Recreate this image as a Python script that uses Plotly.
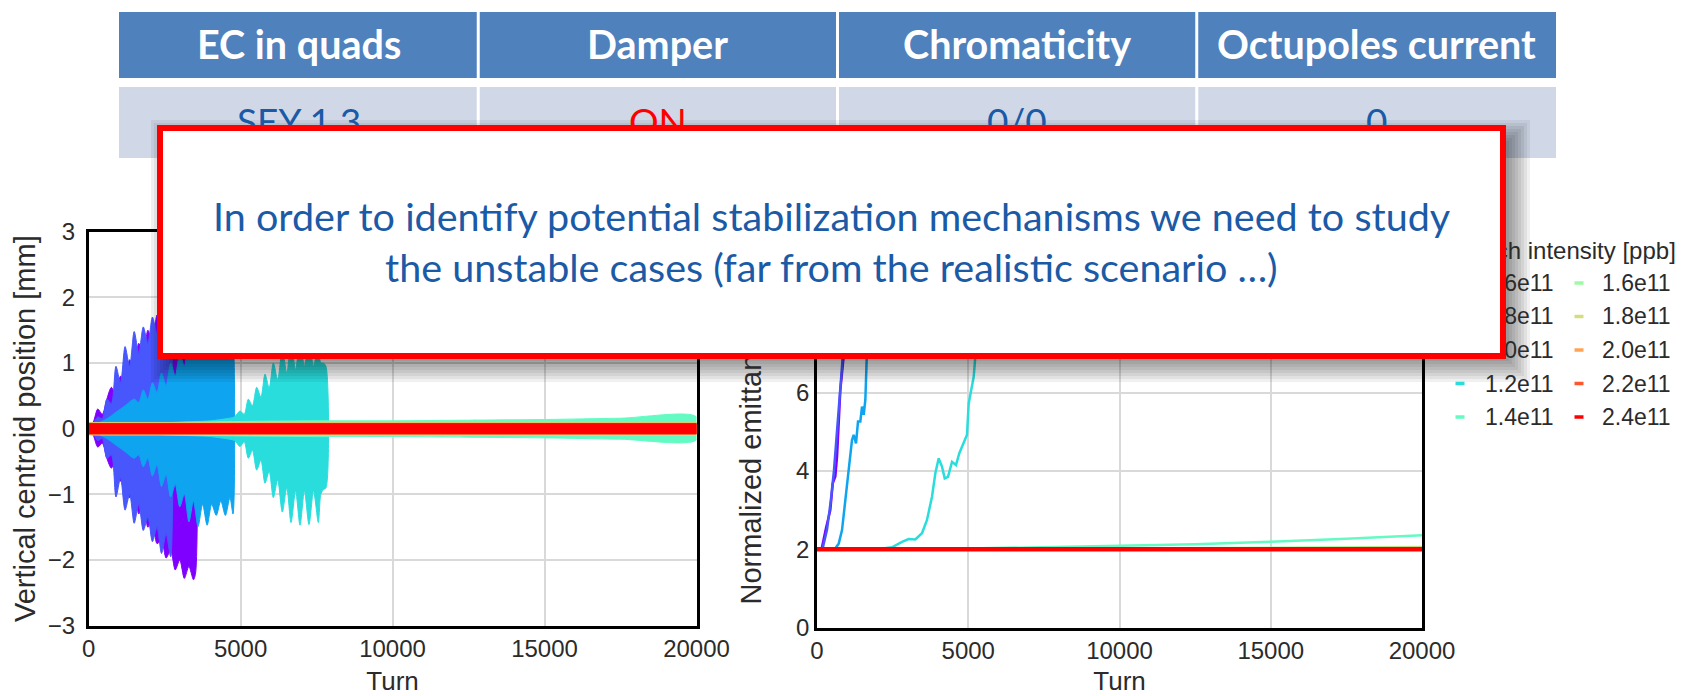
import plotly.graph_objects as go

W, H = 1692, 696

def px(x):
    return x / W

def py(y):
    return 1 - y / H

# ---------------- data ----------------
INTENSITY_LABELS = ["0.6e11", "0.8e11", "1.0e11", "1.2e11", "1.4e11",
                    "1.6e11", "1.8e11", "2.0e11", "2.2e11", "2.4e11"]
COLORS = ["#8000ff", "#4757fb", "#0ea4f0", "#2adddd", "#63fbc3",
          "#9cfba4", "#d4dd80", "#ffa457", "#ff572c", "#ff0000"]
LEGEND_TITLE = "Bunch intensity [ppb]"

TABLE_HEADER = ["EC in quads", "Damper", "Chromaticity", "Octupoles current"]
TABLE_ROW = ["SEY 1.3", "ON", "0/0", "0"]
TABLE_ROW_COLORS = ["#1b5aa6", "#ff0000", "#1b5aa6", "#1b5aa6"]

BOX_TEXT_1 = "In order to identify potential stabilization mechanisms we need to study"
BOX_TEXT_2 = "the unstable cases (far from the realistic scenario \u2026)"

TURN_TICKS = [0, 5000, 10000, 15000, 20000]
TURN_TICK_LABELS = ["0", "5000", "10000", "15000", "20000"]
POS_TICKS = [-3, -2, -1, 0, 1, 2, 3]
POS_TICK_LABELS = ["\u22123", "\u22122", "\u22121", "0", "1", "2", "3"]
EMIT_TICKS = [0, 2, 4, 6, 8, 10]
EMIT_TICK_LABELS = ["0", "2", "4", "6", "8", "10"]

# Left panel: envelope (upper / lower) of the vertical centroid oscillation [mm]
T_06 = [0, 150, 300, 450, 600, 750, 900, 1050, 1200, 1350, 1500, 1650, 1800, 1950, 2100,
        2250, 2400, 2550, 2700, 2850, 3000, 3150, 3300, 3450, 3520]
U_06 = [0.04, 0.10, 0.30, 0.22, 0.45, 0.63, 0.50, 0.80, 0.70, 1.05, 0.90, 1.30, 1.10, 1.50, 1.30,
        1.73, 1.50, 1.90, 1.65, 2.05, 1.85, 2.20, 2.00, 2.30, 2.10]
L_06 = [-0.04, -0.10, -0.28, -0.22, -0.45, -0.60, -0.48, -0.80, -0.70, -1.05, -0.90, -1.30, -1.10,
        -1.50, -1.35, -1.75, -1.70, -1.97, -1.85, -2.15, -2.00, -2.28, -2.10, -2.30, -2.20]

T_08 = [0, 150, 300, 450, 600, 750, 900, 1050, 1200, 1350, 1500, 1650, 1800, 1950, 2100,
        2250, 2400, 2550, 2700]
U_08 = [0.03, 0.08, 0.18, 0.15, 0.45, 0.38, 0.95, 0.70, 1.25, 0.95, 1.48, 1.15, 1.55, 1.30, 1.70,
        1.45, 1.85, 1.55, 1.90]
L_08 = [-0.03, -0.08, -0.18, -0.15, -0.45, -0.40, -1.04, -0.75, -1.24, -1.00, -1.44, -1.15, -1.55,
        -1.35, -1.72, -1.50, -1.90, -1.60, -1.95]

T_10 = [0, 300, 600, 900, 1200, 1500, 1650, 1800, 1950, 2100, 2250, 2400, 2550, 2700, 2850, 3000,
        3150, 3300, 3450, 3600, 3750, 3900, 4050, 4200, 4350, 4500, 4650, 4750, 4790]
U_10 = [0.02, 0.08, 0.15, 0.25, 0.35, 0.45, 0.40, 0.59, 0.45, 0.70, 0.55, 0.85, 0.65, 1.00, 0.80,
        1.15, 0.95, 1.35, 1.10, 1.49, 1.15, 1.47, 1.15, 1.35, 1.10, 1.32, 1.05, 1.30, 1.00]
L_10 = [-0.02, -0.08, -0.15, -0.25, -0.35, -0.45, -0.40, -0.58, -0.45, -0.72, -0.55, -0.88, -0.70,
        -1.04, -0.85, -1.19, -1.00, -1.42, -1.10, -1.49, -1.15, -1.47, -1.15, -1.32, -1.10, -1.32,
        -1.05, -1.30, -1.00]

T_12 = [0, 1000, 2000, 3000, 4000, 4500, 4800, 4980, 5120, 5255, 5390, 5530, 5670, 5804, 5940,
        6078, 6220, 6373, 6520, 6660, 6810, 6955, 7100, 7251, 7400, 7558, 7640, 7722, 7810]
U_12 = [0.02, 0.05, 0.08, 0.10, 0.12, 0.15, 0.18, 0.27, 0.22, 0.45, 0.35, 0.63, 0.48, 0.83, 0.62,
        1.00, 0.75, 1.20, 0.85, 1.30, 0.90, 1.35, 0.95, 1.35, 0.95, 1.30, 1.00, 1.00, 0.95]
L_12 = [-0.02, -0.05, -0.08, -0.10, -0.12, -0.15, -0.18, -0.27, -0.20, -0.45, -0.33, -0.63, -0.48,
        -0.83, -0.65, -1.05, -0.78, -1.27, -0.90, -1.43, -0.95, -1.47, -0.95, -1.46, -0.95, -1.43,
        -1.00, -0.93, -0.90]

T_14 = [0, 2500, 5000, 7500, 10000, 12500, 15000, 17500, 20000]
U_14 = [0.05, 0.09, 0.11, 0.12, 0.12, 0.13, 0.14, 0.16, 0.18]
L_14 = [-0.05, -0.09, -0.11, -0.12, -0.12, -0.13, -0.14, -0.16, -0.17]

T_ST = [0, 20000]
U_16 = [0.095, 0.095]
L_16 = [-0.095, -0.095]
U_18 = [0.09, 0.09]
L_18 = [-0.09, -0.09]
U_20 = [0.085, 0.085]
L_20 = [-0.085, -0.085]
U_22 = [0.08, 0.08]
L_22 = [-0.08, -0.08]
U_24 = [0.076, 0.076]
L_24 = [-0.076, -0.076]

POS_T = [T_06, T_08, T_10, T_12, T_14, T_ST, T_ST, T_ST, T_ST, T_ST]
POS_U = [U_06, U_08, U_10, U_12, U_14, U_16, U_18, U_20, U_22, U_24]
POS_L = [L_06, L_08, L_10, L_12, L_14, L_16, L_18, L_20, L_22, L_24]

# Right panel: normalized emittance [um]
ET_06 = [0, 150, 300, 440, 520, 606, 662, 771, 880, 1000]
E_06 = [2.0, 2.0, 2.55, 3.0, 3.68, 3.86, 4.36, 6.06, 6.91, 8.5]
ET_08 = [0, 180, 330, 450, 560, 650, 740, 820, 900, 1000]
E_08 = [2.0, 2.0, 2.5, 3.2, 4.0, 4.8, 5.8, 6.6, 7.4, 8.6]
ET_10 = [0, 400, 606, 720, 827, 937, 1048, 1157, 1213, 1290, 1356, 1433, 1488, 1544, 1598, 1631,
         1700, 1800]
E_10 = [2.0, 2.0, 2.02, 2.15, 2.49, 3.26, 3.94, 4.79, 4.92, 4.70, 5.26, 5.26, 5.64, 5.43, 5.81,
        6.83, 8.2, 9.8]
ET_12 = [0, 1500, 2046, 2480, 2810, 3031, 3250, 3471, 3636, 3802, 3912, 4023, 4132, 4222, 4331,
         4463, 4595, 4705, 4850, 4959, 5015, 5101, 5180, 5233, 5350, 5500]
E_12 = [2.0, 2.0, 2.01, 2.05, 2.19, 2.26, 2.25, 2.41, 2.75, 3.34, 3.94, 4.32, 4.11, 3.81, 3.85,
        4.23, 4.15, 4.45, 4.70, 4.92, 5.72, 6.06, 6.40, 6.91, 8.0, 9.6]
ET_LONG = [0, 2500, 5000, 7500, 10000, 12500, 15000, 17500, 20000]
E_14 = [2.0, 2.0, 2.02, 2.05, 2.09, 2.13, 2.19, 2.27, 2.36]
E_16 = [2.0, 2.0, 2.0, 2.01, 2.02, 2.03, 2.04, 2.05, 2.06]
E_18 = [2.0, 2.0, 2.0, 2.01, 2.015, 2.02, 2.03, 2.035, 2.04]
E_20 = [2.0, 2.0, 2.0, 2.005, 2.01, 2.015, 2.02, 2.025, 2.03]
E_22 = [2.0, 2.0, 2.0, 2.0, 2.005, 2.01, 2.012, 2.015, 2.02]
E_24 = [2.0, 2.0, 2.0, 2.0, 2.0, 2.0, 2.0, 2.0, 2.0]

EMIT_T = [ET_06, ET_08, ET_10, ET_12, ET_LONG, ET_LONG, ET_LONG, ET_LONG, ET_LONG, ET_LONG]
EMIT_V = [E_06, E_08, E_10, E_12, E_14, E_16, E_18, E_20, E_22, E_24]

# ---------------- figure ----------------
CHART_FONT = "Liberation Sans, Arial, sans-serif"
SLIDE_FONT = "Lato, Noto Sans, sans-serif"
TXT = "#2b2b2b"
BLUE_TXT = "#1b5aa6"

fig = go.Figure()

for i, lab in enumerate(INTENSITY_LABELS):
    t, u, l = POS_T[i], POS_U[i], POS_L[i]
    unstable = len(t) > 2
    fig.add_trace(go.Scatter(
        x=list(t) + list(t)[::-1], y=list(u) + list(l)[::-1],
        mode="lines", fill="toself", fillcolor=COLORS[i],
        line=dict(color=COLORS[i], width=1,
                  shape="spline" if unstable else "linear", smoothing=0.8),
        xaxis="x", yaxis="y", showlegend=False, hoverinfo="skip", name=lab))

for i, lab in enumerate(INTENSITY_LABELS):
    fig.add_trace(go.Scatter(
        x=EMIT_T[i], y=EMIT_V[i], mode="lines",
        line=dict(color=COLORS[i], width=4.5 if i == 9 else 2.5),
        xaxis="x2", yaxis="y2", showlegend=False, name=lab))

axis_common = dict(
    automargin=False,
    showgrid=True, gridcolor="#d9d9d9", gridwidth=1.5,
    showline=True, linecolor="black", linewidth=2.5, mirror=True,
    zeroline=False, ticks="", tickmode="array",
    tickfont=dict(family=CHART_FONT, size=24, color=TXT),
)

fig.update_layout(
    width=W, height=H, autosize=False,
    margin=dict(l=0, r=0, t=0, b=0, pad=0),
    paper_bgcolor="white", plot_bgcolor="white",
    font=dict(family=CHART_FONT, color=TXT),
    showlegend=False,
    xaxis=dict(axis_common, domain=[px(88.6), px(696.5)], range=[0, 20000], anchor="y",
               tickvals=TURN_TICKS, ticktext=TURN_TICK_LABELS, ticklabelstandoff=0,
               title=dict(text="Turn", font=dict(size=26, color=TXT), standoff=12)),
    yaxis=dict(axis_common, domain=[py(625.7), py(231.7)], range=[-3, 3], anchor="x",
               tickvals=POS_TICKS, ticktext=POS_TICK_LABELS, ticklabelstandoff=6,
               title=dict(text="Vertical centroid position [mm]",
                          font=dict(size=29, color=TXT), standoff=4)),
    xaxis2=dict(axis_common, domain=[px(817), px(1422)], range=[0, 20000], anchor="y2",
                tickvals=TURN_TICKS, ticktext=TURN_TICK_LABELS, ticklabelstandoff=0,
                title=dict(text="Turn", font=dict(size=26, color=TXT), standoff=12)),
    yaxis2=dict(axis_common, domain=[py(627.7), py(235.7)], range=[0, 10], anchor="x2",
                tickvals=EMIT_TICKS, ticktext=EMIT_TICK_LABELS, ticklabelstandoff=0,
                title=dict(text="Normalized emittance [\u03bcm]",
                           font=dict(size=29, color=TXT), standoff=13)),
)

shapes = []
annotations = []

# ---------------- table (cells + text) ----------------
COL_EDGES = [119, 478.25, 837.5, 1196.75, 1556]
for c in range(4):
    x0 = COL_EDGES[c] + (1.5 if c > 0 else 0)
    x1 = COL_EDGES[c + 1] - (1.5 if c < 3 else 0)
    shapes.append(dict(type="rect", xref="paper", yref="paper", layer="above",
                       x0=px(x0), x1=px(x1), y0=py(78), y1=py(12),
                       fillcolor="#4f81bd", line=dict(width=0)))
    shapes.append(dict(type="rect", xref="paper", yref="paper", layer="above",
                       x0=px(x0), x1=px(x1), y0=py(158), y1=py(87),
                       fillcolor="#d0d8e8", line=dict(width=0)))
    xc = px((COL_EDGES[c] + COL_EDGES[c + 1]) / 2)
    annotations.append(dict(xref="paper", yref="paper", x=xc, y=py(44),
                            text="<b>%s</b>" % TABLE_HEADER[c], showarrow=False,
                            xanchor="center", yanchor="middle",
                            font=dict(family=SLIDE_FONT, size=39.5, color="white")))
    annotations.append(dict(xref="paper", yref="paper", x=xc, y=py(121),
                            text=TABLE_ROW[c], showarrow=False,
                            xanchor="center", yanchor="middle",
                            font=dict(family=SLIDE_FONT, size=37, color=TABLE_ROW_COLORS[c])))

# ---------------- legend (two columns) ----------------
LEG_ROW_Y = [283, 316.5, 350, 383.5, 417]
LEG_COL_MARK_X = [1460, 1579]
LEG_COL_TEXT_X = [1483, 1600]
annotations.append(dict(xref="paper", yref="paper", x=px(1678), y=py(250),
                        xanchor="right", yanchor="middle", showarrow=False,
                        text=LEGEND_TITLE,
                        font=dict(family=CHART_FONT, size=24, color=TXT)))
for i, lab in enumerate(INTENSITY_LABELS):
    col, row = divmod(i, 5)
    yy = LEG_ROW_Y[row]
    xm = LEG_COL_MARK_X[col]
    shapes.append(dict(type="line", xref="paper", yref="paper", layer="above",
                       x0=px(xm - 4.5), x1=px(xm + 4.5), y0=py(yy), y1=py(yy),
                       line=dict(color=COLORS[i], width=3.5)))
    annotations.append(dict(xref="paper", yref="paper", x=px(LEG_COL_TEXT_X[col]), y=py(yy),
                            xanchor="left", yanchor="middle", showarrow=False,
                            text=lab, font=dict(family=CHART_FONT, size=23, color=TXT)))

# ---------------- callout box with soft shadow ----------------
BX0, BX1, BY0, BY1 = 157, 1506, 126, 358
for e in range(-15, 16, 3):
    shapes.append(dict(type="rect", xref="paper", yref="paper", layer="above",
                       x0=px(BX0 + 9 - e), x1=px(BX1 + 9 + e),
                       y0=py(BY1 + 9 + e), y1=py(BY0 + 9 - e),
                       fillcolor="rgba(0,0,0,0.06)", line=dict(width=0)))

annotations.append(dict(xref="paper", yref="paper",
                        x=px((BX0 + BX1) / 2), y=py((BY0 + BY1) / 2),
                        xanchor="center", yanchor="middle", showarrow=False,
                        text=" ", width=BX1 - BX0 - 12, height=BY1 - BY0 - 10,
                        bgcolor="white", bordercolor="#ff0000", borderwidth=6, borderpad=0,
                        font=dict(family=SLIDE_FONT, size=10)))
annotations.append(dict(xref="paper", yref="paper", x=px((BX0 + BX1) / 2), y=py(216),
                        xanchor="center", yanchor="middle", showarrow=False,
                        text=BOX_TEXT_1, font=dict(family=SLIDE_FONT, size=39.5, color=BLUE_TXT)))
annotations.append(dict(xref="paper", yref="paper", x=px((BX0 + BX1) / 2), y=py(266),
                        xanchor="center", yanchor="middle", showarrow=False,
                        text=BOX_TEXT_2, font=dict(family=SLIDE_FONT, size=39.5, color=BLUE_TXT)))

fig.update_layout(shapes=shapes, annotations=annotations)

fig.write_html("out.html")
